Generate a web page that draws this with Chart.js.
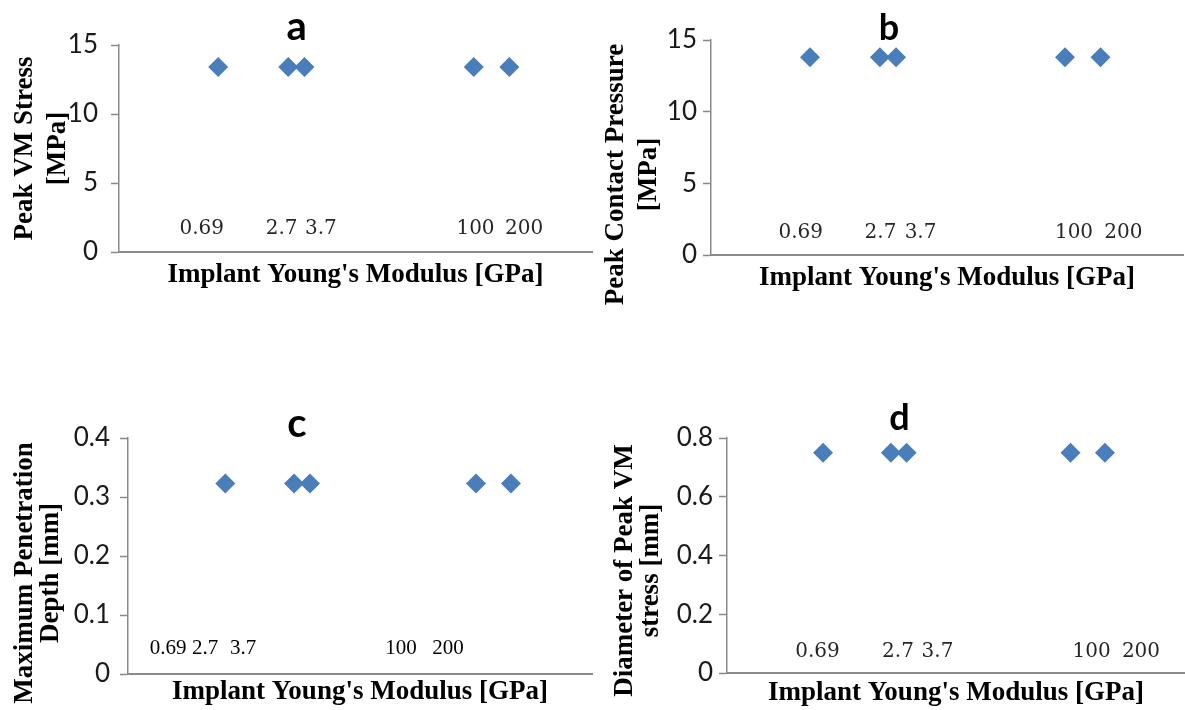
<!DOCTYPE html>
<html>
<head>
<meta charset="utf-8">
<title>Implant modulus sweep</title>
<script src="https://cdn.jsdelivr.net/npm/chart.js"></script>
<style>
  body { margin: 0; background: #fff; }
  #page { position: relative; width: 1185px; height: 710px; overflow: hidden; }
  .panel { position: absolute; }
</style>
</head>
<body>
<div id="page">
  <div class="panel" style="left:0;top:0"><canvas id="panel-a" width="595" height="300"></canvas></div>
  <div class="panel" style="left:595px;top:0"><canvas id="panel-b" width="590" height="310"></canvas></div>
  <div class="panel" style="left:0;top:380px"><canvas id="panel-c" width="595" height="330"></canvas></div>
  <div class="panel" style="left:595px;top:380px"><canvas id="panel-d" width="590" height="330"></canvas></div>
</div>
<script>
// implant Young's modulus values (GPa) and how they are written on the plots
const modulusGPa = [0.69, 2.7, 3.7, 100, 200];
const modulusText = ["0.69", "2.7", "3.7", "100", "200"];

// results per modulus
const peakVmStress = [13.4, 13.4, 13.4, 13.4, 13.4];
const peakContactPressure = [13.8, 13.8, 13.8, 13.8, 13.8];
const penetrationDepth = [0.323, 0.323, 0.323, 0.323, 0.323];
const peakVmDiameter = [0.75, 0.75, 0.75, 0.75, 0.75];

// y tick values
const stressTicks = [0, 5, 10, 15];
const pressureTicks = [0, 5, 10, 15];
const depthTicks = [0, 0.1, 0.2, 0.3, 0.4];
const diameterTicks = [0, 0.2, 0.4, 0.6, 0.8];

const SERIF = '"Liberation Serif", "Times New Roman", serif';
const LABEL_SERIF = '"DejaVu Serif", serif';
const SANS = 'Lato, "Open Sans", sans-serif';
const AXIS_GREY = "#898989";
const MARKER = "#4A7EBB";
const TITLE_SIZE = 27;

// rotated two-line y caption, drawn beside the axis
const yCaption = {
  id: "yCaption",
  afterDraw(chart, args, opts) {
    const { ctx, chartArea } = chart;
    const midY = (chartArea.top + chartArea.bottom) / 2 + opts.shift;
    ctx.save();
    ctx.font = "bold " + TITLE_SIZE + "px " + SERIF;
    ctx.fillStyle = "#000";
    ctx.textAlign = "center";
    ctx.textBaseline = "middle";
    opts.lines.forEach((line, i) => {
      ctx.save();
      ctx.translate(chartArea.left + opts.dx[i], midY);
      ctx.rotate(-Math.PI / 2);
      ctx.fillText(line, 0, 0);
      ctx.restore();
    });
    ctx.restore();
  },
};

// modulus values written just above the x axis
const modulusLabels = {
  id: "modulusLabels",
  afterDatasetsDraw(chart, args, opts) {
    const { ctx, chartArea, scales } = chart;
    ctx.save();
    ctx.font = opts.size + "px " + opts.family;
    ctx.fillStyle = opts.color;
    ctx.textAlign = "center";
    ctx.textBaseline = "middle";
    modulusText.forEach((txt, i) => {
      const x = scales.x.getPixelForValue(modulusGPa[i]) + opts.dx[i];
      ctx.fillText(txt, x, chartArea.bottom - opts.rise);
    });
    ctx.restore();
  },
};

// bold panel letter over the plot
const panelLetter = {
  id: "panelLetter",
  afterDraw(chart, args, opts) {
    const { ctx, chartArea } = chart;
    ctx.save();
    ctx.font = "bold " + opts.size + "px " + SANS;
    ctx.fillStyle = "#000";
    ctx.textAlign = "center";
    ctx.textBaseline = "alphabetic";
    ctx.fillText(opts.text, chartArea.left + opts.dx, chartArea.top + opts.base);
    ctx.restore();
  },
};

function buildPanel(id, p) {
  const height = document.getElementById(id).height;
  return new Chart(document.getElementById(id), {
    type: "scatter",
    data: {
      datasets: [
        {
          data: modulusGPa.map((x, i) => ({ x: x, y: p.values[i] })),
          pointStyle: "rectRot",
          pointRadius: 10,
          pointHoverRadius: 10,
          backgroundColor: MARKER,
          borderColor: MARKER,
          borderWidth: 0,
        },
      ],
    },
    options: {
      responsive: false,
      animation: false,
      events: [],
      layout: {
        autoPadding: false,
        padding: { left: 0, right: p.right, top: p.top, bottom: 0 },
      },
      plugins: {
        legend: { display: false },
        tooltip: { enabled: false },
        yCaption: p.caption,
        modulusLabels: p.labels,
        panelLetter: p.letter,
      },
      scales: {
        x: {
          type: "logarithmic",
          min: 0.1,
          max: 1000,
          ticks: { display: false },
          grid: { display: false },
          border: { color: AXIS_GREY, width: 2 },
          title: {
            display: true,
            text: "Implant Young's Modulus [GPa]",
            color: "#000",
            font: { family: SERIF, size: TITLE_SIZE, weight: "bold" },
            padding: { top: 0, bottom: height - p.bottom - p.xTitleGap - TITLE_SIZE * 0.6 },
          },
          afterFit: (s) => {
            s.height = height - p.bottom;
          },
        },
        y: {
          min: p.ticks[0],
          max: p.ticks[p.ticks.length - 1],
          afterBuildTicks: (s) => {
            s.ticks = p.ticks.map((v) => ({ value: v }));
          },
          ticks: {
            color: "#1a1a1a",
            padding: p.tickPad,
            font: { family: SANS, size: 26 },
          },
          grid: {
            drawOnChartArea: false,
            drawTicks: true,
            tickLength: 8,
            tickWidth: 1.5,
            tickColor: AXIS_GREY,
          },
          border: { color: AXIS_GREY, width: 1.5 },
          afterFit: (s) => {
            s.width = p.left;
          },
        },
      },
    },
    plugins: [yCaption, modulusLabels, panelLetter],
  });
}

buildPanel("panel-a", {
  values: peakVmStress,
  ticks: stressTicks,
  left: 119, right: 3, top: 45, bottom: 252, xTitleGap: 23, tickPad: 13,
  caption: { lines: ["Peak VM Stress", "[MPa]"], dx: [-94, -61], shift: 0 },
  labels: { dx: [-16.5, -6.6, 16.4, 1.75, 14.7], rise: 23, size: 20, family: LABEL_SERIF, color: "#262626" },
  letter: { text: "a", dx: 177.7, base: -5, size: 40 },
});

buildPanel("panel-b", {
  values: peakContactPressure,
  ticks: pressureTicks,
  left: 116, right: 2, top: 40, bottom: 255, xTitleGap: 23, tickPad: 6,
  caption: { lines: ["Peak Contact Pressure", "[MPa]"], dx: [-95, -62], shift: 27 },
  labels: { dx: [-9.2, 0.6, 24.5, 9, 22.8], rise: 22, size: 20, family: LABEL_SERIF, color: "#262626" },
  letter: { text: "b", dx: 178, base: 0, size: 36 },
});

buildPanel("panel-c", {
  values: penetrationDepth,
  ticks: depthTicks,
  left: 128, right: 3, top: 58, bottom: 294, xTitleGap: 18, tickPad: 10,
  caption: { lines: ["Maximum Penetration", "Depth [mm]"], dx: [-103, -77], shift: 17 },
  labels: { dx: [-57.3, -89, -66.9, -75, -62.9], rise: 26, size: 21, family: SERIF, color: "#000" },
  letter: { text: "c", dx: 169, base: -1, size: 40 },
});

buildPanel("panel-d", {
  values: peakVmDiameter,
  ticks: diameterTicks,
  left: 132, right: 0, top: 58, bottom: 293, xTitleGap: 20, tickPad: 6,
  caption: { lines: ["Diameter of Peak VM", "stress [mm]"], dx: [-102, -75.5], shift: 15 },
  labels: { dx: [-5.5, 7.1, 30.9, 21.2, 36], rise: 21.6, size: 20, family: LABEL_SERIF, color: "#262626" },
  letter: { text: "d", dx: 172.5, base: -8, size: 36 },
});
</script>
</body>
</html>
